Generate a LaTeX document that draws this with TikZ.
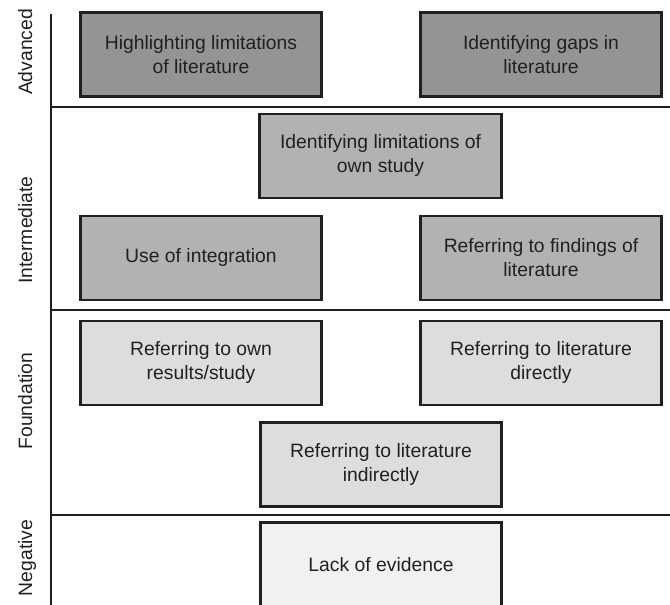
\documentclass[tikz,border=0pt]{standalone}
\usepackage{fontspec}
\setmainfont{Liberation Sans}
\definecolor{inkgray}{HTML}{231F20}
\definecolor{advfill}{HTML}{939496}
\definecolor{intfill}{HTML}{B1B2B4}
\definecolor{fndfill}{HTML}{DCDDDF}
\definecolor{negfill}{HTML}{F0F1F2}
\tikzset{
  levelbox/.style={draw=inkgray, line width=2.2pt, minimum width=181pt, minimum height=63pt,
    align=center, text=inkgray, font=\fontsize{14.5}{18}\selectfont, inner sep=0pt},
  levelname/.style={rotate=90, anchor=base, text=inkgray, font=\fontsize{14.5}{18}\selectfont},
  divider/.style={draw=inkgray, line width=1.5pt}
}

\begin{document}
\begin{tikzpicture}[x=0.75pt, y=-0.75pt]
\clip (0,0) rectangle (670,605);
\coordinate (axtop) at (51,14);
\coordinate (axbot) at (51,606);
\draw[divider] (axtop) -- (axbot);
\draw[divider] (51,107) -- (671,107);
\draw[divider] (51,310) -- (671,310);
\draw[divider] (51,515) -- (671,515);
% level names
\node[levelname] (advanced) at (32,52) {Advanced};
\node[levelname] (intermediate) at (32,230) {Intermediate};
\node[levelname] (foundation) at (32,401) {Foundation};
\node[levelname] (negative) at (32,558) {Negative};
% advanced
\node[levelbox, fill=advfill] (highlight) at (201,54.5) {Highlighting limitations\\of literature};
\node[levelbox, fill=advfill] (gaps) at (541,54.5) {Identifying gaps in\\literature};
% intermediate
\node[levelbox, fill=intfill] (ownlimit) at (380.5,156) {Identifying limitations of\\own study};
\node[levelbox, fill=intfill] (integration) at (201,258) {Use of integration};
\node[levelbox, fill=intfill] (findings) at (541,258) {Referring to findings of\\literature};
% foundation
\node[levelbox, fill=fndfill] (ownresults) at (201,363) {Referring to own\\results/study};
\node[levelbox, fill=fndfill] (direct) at (541,363) {Referring to literature\\directly};
\node[levelbox, fill=fndfill] (indirect) at (381,464.5) {Referring to literature\\indirectly};
% negative
\node[levelbox, fill=negfill] (lack) at (381,564.5) {Lack of evidence};
\end{tikzpicture}
\end{document}
